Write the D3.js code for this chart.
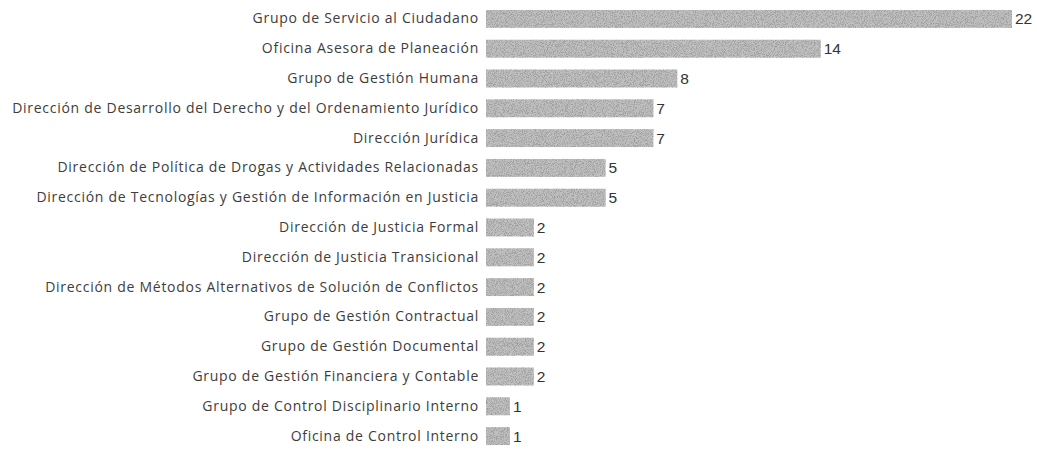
<!DOCTYPE html>
<html>
<head>
<meta charset="utf-8">
<script src="https://cdn.jsdelivr.net/npm/d3@7"></script>
<style>
  body { margin: 0; background: #fff; }
</style>
</head>
<body>
<svg class="chart"></svg>
<script>
var categories = [
  "Grupo de Servicio al Ciudadano",
  "Oficina Asesora de Planeación",
  "Grupo de Gestión Humana",
  "Dirección de Desarrollo del Derecho y del Ordenamiento Jurídico",
  "Dirección Jurídica",
  "Dirección de Política de Drogas y Actividades Relacionadas",
  "Dirección de Tecnologías y Gestión de Información en Justicia",
  "Dirección de Justicia Formal",
  "Dirección de Justicia Transicional",
  "Dirección de Métodos Alternativos de Solución de Conflictos",
  "Grupo de Gestión Contractual",
  "Grupo de Gestión Documental",
  "Grupo de Gestión Financiera y Contable",
  "Grupo de Control Disciplinario Interno",
  "Oficina de Control Interno"
];
var values = [22, 14, 8, 7, 7, 5, 5, 2, 2, 2, 2, 2, 2, 1, 1];

var width = 1037;
var height = 468;
var left = 486;

var svg = d3.select(".chart")
  .attr("width", width)
  .attr("height", height);

// grainy texture for the bars, like the scanned original
var defs = svg.append("defs");
var filter = defs.append("filter").attr("id", "grain")
  .attr("filterUnits", "objectBoundingBox")
  .attr("x", 0).attr("y", 0).attr("width", 1).attr("height", 1);
filter.append("feTurbulence")
  .attr("type", "fractalNoise")
  .attr("baseFrequency", 1.1)
  .attr("numOctaves", 2)
  .attr("seed", 3)
  .attr("result", "noise");
filter.append("feColorMatrix")
  .attr("in", "noise")
  .attr("type", "matrix")
  .attr("values", "0 0 0 0 0.35  0 0 0 0 0.35  0 0 0 0 0.35  4 0 0 0 -1.7")
  .attr("result", "dots");
filter.append("feComposite")
  .attr("in", "dots")
  .attr("in2", "SourceGraphic")
  .attr("operator", "in")
  .attr("result", "grainy");
filter.append("feMerge").call(function(m) {
  m.append("feMergeNode").attr("in", "SourceGraphic");
  m.append("feMergeNode").attr("in", "grainy");
});

var x = d3.scaleLinear()
  .domain([0, 22])
  .range([left, 1012]);

var y = d3.scaleBand()
  .domain(categories)
  .range([4, 451])
  .paddingInner(0.4)
  .paddingOuter(0.2);

svg.selectAll("rect.bar")
  .data(values)
  .enter()
  .append("rect")
  .attr("class", "bar")
  .attr("x", x(0))
  .attr("y", function(d, i) { return y(categories[i]); })
  .attr("width", function(d) { return x(d) - x(0); })
  .attr("height", y.bandwidth())
  .attr("fill", "#c0c0c0")
  .attr("filter", "url(#grain)");

// value labels
svg.selectAll("text.val")
  .data(values)
  .enter()
  .append("text")
  .attr("class", "val")
  .text(function(d) { return d; })
  .attr("x", function(d) { return x(d) + 3; })
  .attr("y", function(d, i) { return y(categories[i]) + y.bandwidth() / 2; })
  .attr("dy", "0.36em")
  .attr("font-family", "Liberation Sans, Arial, sans-serif")
  .attr("font-size", "15.5px")
  .attr("fill", "#333");

// category labels
var axis = d3.axisLeft(y).tickSize(0).tickPadding(7);
var g = svg.append("g")
  .attr("transform", "translate(" + left + ",0)")
  .call(axis);
g.select(".domain").remove();
g.selectAll("text")
  .attr("font-family", "'Open Sans', sans-serif")
  .attr("font-size", "14px")
  .attr("letter-spacing", "0.72px")
  .attr("fill", "#3d3d3d");
</script>
</body>
</html>
